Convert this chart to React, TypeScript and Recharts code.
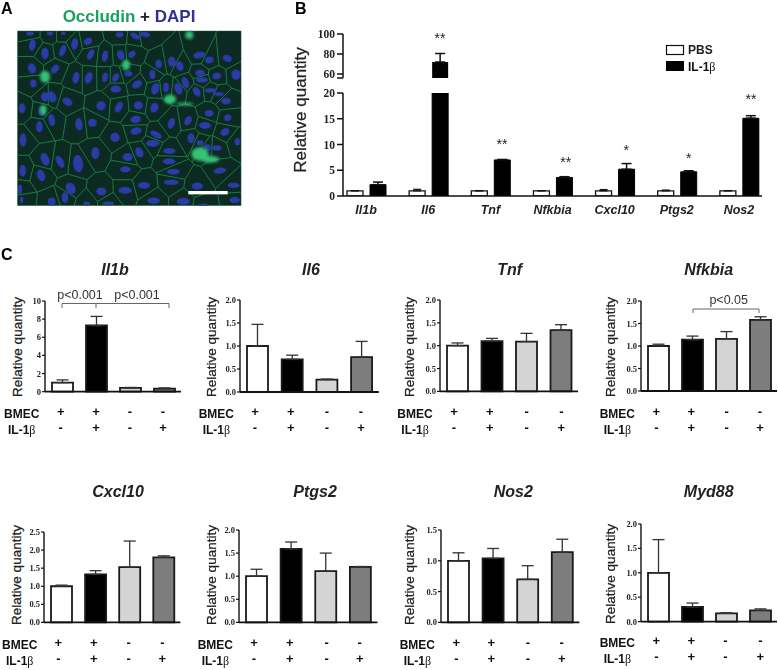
import { BarChart, Bar, XAxis, YAxis, Cell, ErrorBar } from 'recharts';

const SANS = '"Liberation Sans", Arial, sans-serif';
const SERIF = '"Liberation Serif", "Times New Roman", serif';

// Panel B
const genes = ['Il1b', 'Il6', 'Tnf', 'Nfkbia', 'Cxcl10', 'Ptgs2', 'Nos2'];
const pbsValues = [1, 1, 1, 1, 1, 1, 1];
const pbsTops = [1.05, 1.3, 1.05, 1.05, 1.25, 1.15, 1.05];
const il1Values = [2.2, 72, 7.0, 3.6, 5.2, 4.7, 15.1];
const il1Tops = [2.7, 80.5, 7.1, 3.75, 6.3, 4.9, 15.6];
const lowerTicks = [0, 5, 10, 15, 20];
const upperTicks = [56, 60, 80, 100];
const stars = ['', '**', '**', '**', '*', '*', '**'];
const starSpots = [[0, 0], [440, 43], [502, 149], [565.7, 167], [626.3, 155], [688.7, 163], [751, 104]];

// Panel C
const conditionColors = ['#ffffff', '#000000', '#d4d4d4', '#7d7d7d'];
const il1bValues = [1.0, 7.3, 0.42, 0.33];
const il1bTops = [1.3, 8.3, 0.47, 0.42];
const il6Values = [1.0, 0.71, 0.27, 0.76];
const il6Tops = [1.47, 0.8, 0.28, 1.1];
const tnfValues = [1.0, 1.1, 1.09, 1.34];
const tnfTops = [1.06, 1.16, 1.27, 1.46];
const nfkbiaValues = [1.0, 1.14, 1.16, 1.58];
const nfkbiaTops = [1.04, 1.22, 1.32, 1.65];
const cxcl10Values = [1.0, 1.33, 1.53, 1.8];
const cxcl10Tops = [1.03, 1.43, 2.25, 1.84];
const ptgs2Values = [1.0, 1.59, 1.11, 1.2];
const ptgs2Tops = [1.15, 1.74, 1.5, 1.21];
const nos2Values = [1.0, 1.04, 0.7, 1.14];
const nos2Tops = [1.13, 1.2, 0.92, 1.35];
const myd88Values = [1.0, 0.3, 0.17, 0.23];
const myd88Tops = [1.68, 0.38, 0.18, 0.26];
const ticks10 = [0, 2, 4, 6, 8, 10];
const ticks20 = [0, 0.5, 1, 1.5, 2];
const ticks25 = [0, 0.5, 1, 1.5, 2, 2.5];
const ticks15 = [0, 0.5, 1, 1.5];
const bmecSigns = ['+', '+', '-', '-'];
const il1Signs = ['-', '+', '-', '+'];

const panels = [
  { title: 'Il1b', values: il1bValues, tops: il1bTops, ticks: ticks10, left: 44.7, right: 180.7, top: 301.3, bottom: 392, titleX: 115, titleY: 275, axisX: 17, axisY: 347, bmecX: 4, signX: [60.7, 96, 130, 163], rowY: 418 },
  { title: 'Il6', values: il6Values, tops: il6Tops, ticks: ticks20, left: 240, right: 378.8, top: 300, bottom: 392, titleX: 311, titleY: 275, axisX: 211.7, axisY: 347, bmecX: 198.7, signX: [255, 290.7, 327, 361], rowY: 418 },
  { title: 'Tnf', values: tnfValues, tops: tnfTops, ticks: ticks20, left: 439.7, right: 577.7, top: 300.3, bottom: 391.7, titleX: 509.7, titleY: 275, axisX: 409.7, axisY: 347, bmecX: 397.3, signX: [454, 489.7, 526.7, 561.3], rowY: 418 },
  { title: 'Nfkbia', values: nfkbiaValues, tops: nfkbiaTops, ticks: ticks20, left: 640.7, right: 776.7, top: 301, bottom: 391, titleX: 708.7, titleY: 275, axisX: 610.3, axisY: 347, bmecX: 599.7, signX: [656.3, 691.3, 726.7, 760], rowY: 418 },
  { title: 'Cxcl10', values: cxcl10Values, tops: cxcl10Tops, ticks: ticks25, left: 43.6, right: 180, top: 532.3, bottom: 622.7, titleX: 118, titleY: 496.7, axisX: 16.7, axisY: 575, bmecX: 2, signX: [58.3, 93.7, 128.7, 162.3], rowY: 648.7 },
  { title: 'Ptgs2', values: ptgs2Values, tops: ptgs2Tops, ticks: ticks20, left: 239.2, right: 377.7, top: 530.3, bottom: 622.7, titleX: 315, titleY: 496.7, axisX: 211, axisY: 575, bmecX: 197.7, signX: [254, 289.7, 326.7, 359.7], rowY: 648.7 },
  { title: 'Nos2', values: nos2Values, tops: nos2Tops, ticks: ticks15, left: 441, right: 579.4, top: 530.3, bottom: 622.7, titleX: 513.3, titleY: 496.7, axisX: 409.7, axisY: 575, bmecX: 399.7, signX: [456.3, 491.3, 528, 561.7], rowY: 648.7 },
  { title: 'Myd88', values: myd88Values, tops: myd88Tops, ticks: ticks20, left: 641, right: 777, top: 523.7, bottom: 621.3, titleX: 708.7, titleY: 496.7, axisX: 610.3, axisY: 574, bmecX: 599.7, signX: [656.3, 691.3, 725.3, 760.3], rowY: 647 },
];

// Panel A: nuclei of the micrograph, x y rx ry angle, in 3x crop coordinates
const nuclei = [
  [97,135,10,17,10],[135,160,11,18,0],[188,152,9,18,20],[224,132,10,18,10],[264,124,13,10,-30],[359,104,12,8,0],[405,108,16,8,30],[435,103,16,8,10],[150,100,10,6,0],[90,100,12,6,0],[190,100,8,5,0],
  [272,163,9,17,30],[315,168,9,17,10],[362,165,11,15,-20],[396,163,12,9,-40],[96,205,12,16,-20],[165,207,10,15,40],[228,233,10,18,10],[266,233,11,18,20],[315,232,9,15,10],[347,232,9,14,30],[385,221,12,8,0],[100,250,10,12,0],[411,253,16,11,-30],[457,223,9,14,0],[476,192,10,13,0],[515,185,12,15,0],[539,198,11,15,-20],[466,266,12,18,20],[498,262,9,15,0],[535,266,11,18,-20],[556,248,10,18,-20],[590,275,10,16,-30],[598,165,18,10,-10],[628,180,13,10,-10],[682,175,14,10,20],[600,219,14,10,0],[650,228,13,10,-10],[708,224,14,16,0],[606,240,18,8,0],[632,271,18,7,0],[657,282,14,6,0],[678,303,15,10,0],
  [347,267,16,11,0],[135,290,12,14,0],[155,290,13,18,-30],[202,305,16,11,30],[303,317,14,14,10],[357,321,10,18,30],[415,316,14,12,0],[463,323,12,15,20],[125,333,10,14,0],[66,325,10,15,0],[155,360,10,18,-10],[118,380,10,17,0],[237,373,11,19,-5],[277,368,13,12,0],[407,358,16,11,-10],[514,370,10,17,20],[564,362,10,15,30],[627,340,13,10,0],[683,353,11,10,-20],[615,376,18,10,0],[345,412,14,14,0],[408,393,17,11,-10],[468,404,19,9,30],[675,396,14,11,-30],[573,415,11,15,0],[69,420,10,20,0],[458,430,20,10,0],[600,428,10,8,0],[622,443,10,10,0],[650,444,14,8,0],[712,425,8,11,0],[286,459,12,18,0],[234,491,15,26,-5],[180,485,10,20,-30],[135,478,12,20,-20],[418,457,11,16,-30],[383,471,15,12,0],[508,453,19,9,0],[507,484,19,9,0],[68,512,10,18,0],[123,526,12,18,-20],[376,508,16,9,0],[520,515,19,9,0],[660,512,19,9,-10],[514,547,22,8,0],[432,556,18,10,0],[592,558,17,11,0],[701,556,18,8,0],[375,571,20,10,0],[304,574,15,12,0],[212,565,14,18,-30],[60,568,6,15,0],[155,605,12,12,0],[195,592,10,16,0],[461,602,19,10,0],[550,604,20,10,0],[704,600,16,9,0],[325,610,18,6,0],[65,600,5,10,0],[260,610,10,6,0],[610,615,15,5,0],
];
const blobs = [[135,230,15,18],[378,195,12,16],[510,298,18,14],[555,312,26,4],[568,105,12,12],[600,462,26,20],[630,478,28,10],[130,330,10,16]];

const SHOT = { x0: 52, y0: 92, x1: 724, y1: 617 };

// cell outline of one nucleus: the frame cut by the mid line to every other nucleus
function cellOutline(index: number) {
  const [px, py] = nuclei[index];
  let poly = [[SHOT.x0, SHOT.y0], [SHOT.x1, SHOT.y0], [SHOT.x1, SHOT.y1], [SHOT.x0, SHOT.y1]];
  nuclei.forEach(([qx, qy], j) => {
    if (j === index) return;
    const mx = (px + qx) / 2;
    const my = (py + qy) / 2;
    const side = (p: number[]) => (p[0] - mx) * (qx - px) + (p[1] - my) * (qy - py);
    const next: number[][] = [];
    poly.forEach((a, k) => {
      const b = poly[(k + 1) % poly.length];
      const sa = side(a);
      const sb = side(b);
      if (sa <= 0) next.push(a);
      if (sa * sb < 0) {
        const t = sa / (sa - sb);
        next.push([a[0] + (b[0] - a[0]) * t, a[1] + (b[1] - a[1]) * t]);
      }
    });
    poly = next;
  });
  return poly.map((p) => p.join(',')).join(' ');
}

function Micrograph() {
  return (
    <g transform="scale(0.33333)">
      <defs>
        <filter id="soft"><feGaussianBlur stdDeviation="1.5" /></filter>
        <filter id="softer"><feGaussianBlur stdDeviation="5" /></filter>
        <clipPath id="shot"><rect x={SHOT.x0} y={SHOT.y0} width={SHOT.x1 - SHOT.x0} height={SHOT.y1 - SHOT.y0} /></clipPath>
      </defs>
      <g clipPath="url(#shot)">
        <rect x={SHOT.x0} y={SHOT.y0} width={SHOT.x1 - SHOT.x0} height={SHOT.y1 - SHOT.y0} fill="#05241c" />
        <g filter="url(#soft)">
          {nuclei.map((_, i) => (
            <polygon key={i} points={cellOutline(i)} fill="#072c20" stroke="#23964f" strokeWidth={1.7} />
          ))}
        </g>
        <g filter="url(#soft)">
          {nuclei.map(([x, y, rx, ry, a], i) => (
            <ellipse key={i} cx={x} cy={y} rx={rx} ry={ry} transform={`rotate(${a} ${x} ${y})`} fill="#2b3ca6" />
          ))}
        </g>
        <g filter="url(#softer)">
          {blobs.map(([x, y, rx, ry], i) => (
            <ellipse key={i} cx={x} cy={y} rx={rx} ry={ry} fill="#35c274" />
          ))}
        </g>
        <rect x={565} y={573} width={118} height={10} fill="#ffffff" />
      </g>
    </g>
  );
}

function Il1Beta({ x, y, size, weight = 'bold' }: { x: number; y: number; size: number; weight?: string }) {
  return (
    <text x={x} y={y} fontFamily={SANS} fontSize={size} fontWeight={weight} fill="#111">
      IL-1<tspan fontFamily={SERIF} fontWeight="normal">β</tspan>
    </text>
  );
}

function YTitle({ x, y, size }: { x: number; y: number; size: number }) {
  return (
    <text x={x} y={y} transform={`rotate(-90 ${x} ${y})`} textAnchor="middle" dominantBaseline="central" fontFamily={SANS} fontSize={size} fill="#222" stroke="#222" strokeWidth={0.25}>
      Relative quantity
    </text>
  );
}

function Bracket({ x0, x1, y, drop, mid }: { x0: number; x1: number; y: number; drop: number; mid?: number }) {
  let d = `M${x0} ${y + drop}V${y}H${x1}V${y + drop}`;
  if (mid) d += `M${mid} ${y}V${y + drop}`;
  return <path d={d} fill="none" stroke="#666" strokeWidth={1} />;
}

function Annotations() {
  return (
    <svg width={778} height={670} style={{ position: 'absolute', left: 0, top: 0 }}>
      <Micrograph />
      <text x={1} y={14} fontFamily={SANS} fontSize={16} fontWeight="bold" fill="#000">A</text>
      <text x={295} y={14} fontFamily={SANS} fontSize={16} fontWeight="bold" fill="#000">B</text>
      <text x={1} y={260} fontFamily={SANS} fontSize={16} fontWeight="bold" fill="#000">C</text>
      <text x={129} y={22} textAnchor="middle" fontFamily={SANS} fontSize={17} fontWeight="bold">
        <tspan fill="#17a35f">Occludin</tspan>
        <tspan fill="#222"> + </tspan>
        <tspan fill="#2e3191">DAPI</tspan>
      </text>

      <YTitle x={300} y={110} size={17} />
      {stars.map((s, i) => (
        <text key={i} x={starSpots[i][0]} y={starSpots[i][1]} textAnchor="middle" fontFamily={SANS} fontSize={14} fill="#222">{s}</text>
      ))}
      <rect x={666.5} y={45.5} width={17} height={9} fill="#fff" stroke="#111" strokeWidth={1.2} />
      <rect x={666} y={61} width={18} height={10} fill="#000" />
      <text x={688} y={54} fontFamily={SANS} fontSize={12} fontWeight="bold" fill="#222">PBS</text>
      <Il1Beta x={688} y={71} size={12} />

      {panels.map((p) => (
        <g key={p.title}>
          <text x={p.titleX} y={p.titleY} textAnchor="middle" fontFamily={SANS} fontSize={16} fontWeight="bold" fontStyle="italic" fill="#222">{p.title}</text>
          <YTitle x={p.axisX} y={p.axisY} size={13.5} />
          <text x={p.bmecX} y={p.rowY} fontFamily={SANS} fontSize={12} fontWeight="bold" fill="#111">BMEC</text>
          <Il1Beta x={p.bmecX + 4} y={p.rowY + 16} size={12} />
          {p.signX.map((x, i) => (
            <g key={i} fontFamily={SANS} fontSize={13} fontWeight="bold" fill="#111" textAnchor="middle">
              <text x={x} y={p.rowY - 2}>{bmecSigns[i]}</text>
              <text x={x} y={p.rowY + 14}>{il1Signs[i]}</text>
            </g>
          ))}
        </g>
      ))}

      <text x={80} y={299} textAnchor="middle" fontFamily={SANS} fontSize={12.5} fill="#333">p&lt;0.001</text>
      <text x={137} y={299} textAnchor="middle" fontFamily={SANS} fontSize={12.5} fill="#333">p&lt;0.001</text>
      <Bracket x0={62} x1={169} y={303.5} drop={4.5} mid={96} />
      <text x={728.7} y={304} textAnchor="middle" fontFamily={SANS} fontSize={12.5} fill="#333">p&lt;0.05</text>
      <Bracket x0={693} x1={759} y={309} drop={4} />
    </svg>
  );
}

function SmallPanel({ p }: { p: (typeof panels)[number] }) {
  const rows = p.values.map((v, i) => ({ name: `c${i}`, value: v, err: [0, p.tops[i] - v] }));
  const max = p.ticks[p.ticks.length - 1];
  const axisW = 30;
  const pad = 6;
  return (
    <div style={{ position: 'absolute', left: p.left - axisW, top: p.top - pad }}>
      <BarChart
        width={p.right - p.left + axisW + 2}
        height={p.bottom - p.top + pad * 2}
        data={rows}
        margin={{ top: pad, right: 2, bottom: 0, left: 0 }}
        barSize={21}
      >
        <XAxis dataKey="name" height={pad} tick={false} tickLine={false} axisLine={{ stroke: '#111', strokeWidth: 1.8 }} />
        <YAxis
          width={axisW}
          domain={[0, max]}
          ticks={p.ticks}
          interval={0}
          allowDecimals
          tickSize={3}
          tickMargin={1}
          tickFormatter={(t: number) => (max === 10 ? String(t) : t.toFixed(1))}
          tick={{ fontFamily: SERIF, fontWeight: 'bold', fontSize: 8.5, fill: '#222' }}
          axisLine={{ stroke: '#111', strokeWidth: 1.4 }}
          tickLine={{ stroke: '#111', strokeWidth: 1.2 }}
        />
        <Bar dataKey="value" stroke="#1a1a1a" strokeWidth={1.8} isAnimationActive={false}>
          {rows.map((r, i) => (
            <Cell key={r.name} fill={conditionColors[i]} />
          ))}
          <ErrorBar dataKey="err" direction="y" width={6} stroke="#333" strokeWidth={1.3} isAnimationActive={false} />
        </Bar>
      </BarChart>
    </div>
  );
}

function GenePanel() {
  const bLeft = 343;
  const bRight = 762;
  const axisW = 40;
  const lower = genes.map((g, i) => ({
    gene: g,
    pbs: pbsValues[i],
    il1: il1Values[i],
    pbsErr: [0, pbsTops[i] - pbsValues[i]],
    il1Err: [0, il1Values[i] > 20 ? 0 : il1Tops[i] - il1Values[i]],
  }));
  const upper = genes.map((g, i) => ({
    gene: g,
    il1: il1Values[i] > 20 ? il1Values[i] : null,
    il1Err: [0, il1Tops[i] - il1Values[i]],
  }));
  const bandPad = { left: -8, right: -8 };
  const tickStyle = { fontFamily: SERIF, fontWeight: 'bold', fontSize: 11.5, fill: '#222' };
  return (
    <>
      <div style={{ position: 'absolute', left: bLeft - axisW, top: 28 }}>
        <BarChart
          width={bRight - bLeft + axisW + 10}
          height={58}
          data={upper}
          margin={{ top: 6, right: 10, bottom: 8, left: 0 }}
          barSize={16}
          barGap={7}
        >
          <XAxis dataKey="gene" hide padding={bandPad} />
          <YAxis
            width={axisW}
            domain={[56, 100]}
            ticks={upperTicks}
            interval={0}
            allowDataOverflow
            tickSize={6}
            tickMargin={2}
            tickFormatter={(t: number) => (t === 56 ? '' : String(t))}
            tick={tickStyle}
            axisLine={{ stroke: '#111', strokeWidth: 1.5 }}
            tickLine={{ stroke: '#111', strokeWidth: 1.5 }}
          />
          <Bar dataKey="pbs" fill="#fff" isAnimationActive={false} />
          <Bar dataKey="il1" fill="#000" isAnimationActive={false}>
            <ErrorBar dataKey="il1Err" direction="y" width={5} stroke="#111" strokeWidth={1.5} isAnimationActive={false} />
          </Bar>
        </BarChart>
      </div>
      <div style={{ position: 'absolute', left: bLeft - axisW, top: 86.5 }}>
        <BarChart
          width={bRight - bLeft + axisW + 10}
          height={132}
          data={lower}
          margin={{ top: 6, right: 10, bottom: 0, left: 0 }}
          barSize={16}
          barGap={7}
        >
          <XAxis
            dataKey="gene"
            height={23}
            interval={0}
            padding={bandPad}
            tickLine={false}
            tickMargin={3}
            tick={{ fontFamily: SANS, fontWeight: 'bold', fontStyle: 'italic', fontSize: 12.5, fill: '#222' }}
            axisLine={{ stroke: '#111', strokeWidth: 1.5 }}
          />
          <YAxis
            width={axisW}
            domain={[0, 20]}
            ticks={lowerTicks}
            interval={0}
            allowDataOverflow
            tickSize={6}
            tickMargin={2}
            tick={tickStyle}
            axisLine={{ stroke: '#111', strokeWidth: 1.5 }}
            tickLine={{ stroke: '#111', strokeWidth: 1.5 }}
          />
          <Bar dataKey="pbs" fill="#fff" stroke="#111" strokeWidth={1.3} isAnimationActive={false}>
            <ErrorBar dataKey="pbsErr" direction="y" width={4} stroke="#111" strokeWidth={1.2} isAnimationActive={false} />
          </Bar>
          <Bar dataKey="il1" fill="#000" stroke="#000" strokeWidth={1} isAnimationActive={false}>
            <ErrorBar dataKey="il1Err" direction="y" width={5} stroke="#111" strokeWidth={1.5} isAnimationActive={false} />
          </Bar>
        </BarChart>
      </div>
    </>
  );
}

export default function App() {
  return (
    <div style={{ position: 'absolute', left: 0, top: 0, width: 778, height: 670, background: '#fff', overflow: 'hidden' }}>
      <Annotations />
      <GenePanel />
      {panels.map((p) => (
        <SmallPanel key={p.title} p={p} />
      ))}
    </div>
  );
}
